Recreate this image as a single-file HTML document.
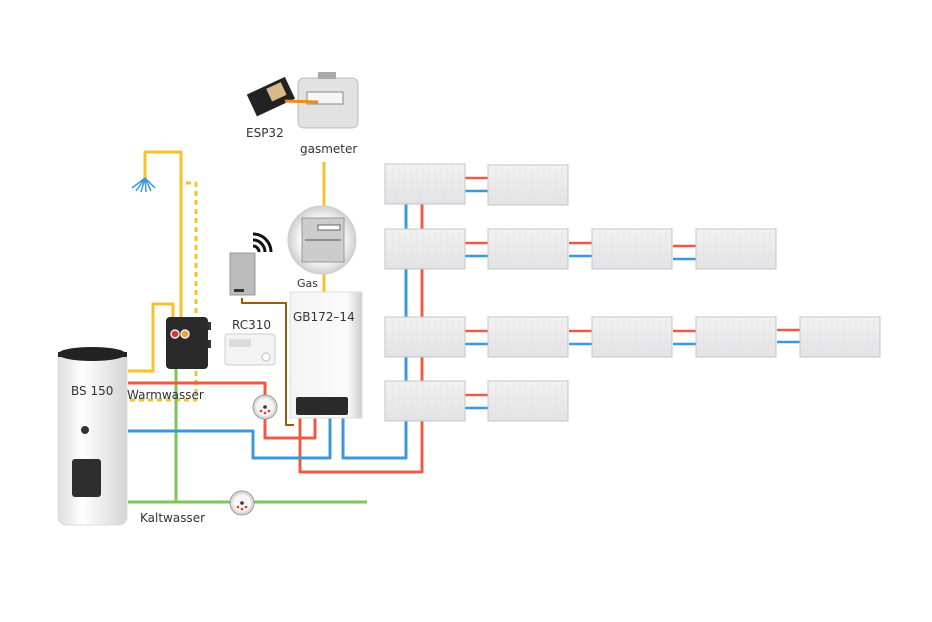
<!DOCTYPE html>
<html><head><meta charset="utf-8"><style>
html,body{margin:0;padding:0;background:#fff;width:932px;height:622px;overflow:hidden}
svg{display:block}
text{font-family:"DejaVu Sans","Liberation Sans",sans-serif;fill:#333}
</style></head><body>
<svg width="932" height="622" viewBox="0 0 932 622" xmlns="http://www.w3.org/2000/svg">
<defs>
<linearGradient id="tank" x1="0" x2="1"><stop offset="0" stop-color="#ddd"/><stop offset=".35" stop-color="#fff"/><stop offset="1" stop-color="#d4d4d4"/></linearGradient>
<linearGradient id="rad" x1="0" y1="0" x2="0" y2="1"><stop offset="0" stop-color="#f2f2f2"/><stop offset="1" stop-color="#e2e2e4"/></linearGradient>
<linearGradient id="boil" x1="0" x2="1"><stop offset="0" stop-color="#f4f4f4"/><stop offset=".8" stop-color="#fafafa"/><stop offset="1" stop-color="#ccc"/></linearGradient>
<radialGradient id="gm"><stop offset=".6" stop-color="#fff"/><stop offset="1" stop-color="#cfcfcf"/></radialGradient>
<g id="r"><rect x="0" y="0" width="80" height="40" fill="url(#rad)" stroke="#c4c4c6"/>
<path d="M8 2v36M14 2v36M20 2v36M26 2v36M32 2v36M38 2v36M44 2v36M50 2v36M56 2v36M62 2v36M68 2v36M74 2v36" stroke="#e6e6e8" stroke-width="1"/></g>
<g id="wm"><circle r="12" fill="#ddd" stroke="#999"/><circle r="9" fill="#f5f5f5"/><circle r="1.8" fill="#333"/><circle cx="-4" cy="4" r="1.3" fill="#e33"/><circle cx="0" cy="6" r="1.3" fill="#e33"/><circle cx="4" cy="4" r="1.3" fill="#e33"/></g>
</defs>
<g fill="none" stroke-width="3" stroke-linejoin="round">
<path d="M145 183V152H181V318" stroke="#f6c22b"/>
<path d="M128 371H153V304H173V318" stroke="#f6c22b"/>
<path d="M186 183H196V400H128" stroke="#f6c22b" stroke-dasharray="5 4"/>
<path d="M324 162V295" stroke="#f6c22b"/>
<path d="M176 368V502M128 502H367" stroke="#7cc55a"/>
<path d="M128 383H265V438H315V418" stroke="#ee5b45"/>
<path d="M300 418V472H422V200" stroke="#ee5b45"/>
<path d="M128 431H253V458H330V418" stroke="#3c98d8"/>
<path d="M343 418V458H406V200" stroke="#3c98d8"/>
<path d="M242 298V303H286V425H294" stroke="#9a5a10" stroke-width="2"/>
</g>
<g stroke-width="2.5" fill="none">
<path d="M465 178H488M465 243H488M569 243H592M673 246H696M465 331H488M569 331H592M673 331H696M777 330H800M465 395H488" stroke="#ee5b45"/>
<path d="M465 191H488M465 256H488M569 256H592M673 259H696M465 344H488M569 344H592M673 344H696M777 342H800M465 408H488" stroke="#3c98d8"/>
</g>
<use href="#r" x="385" y="164"/><use href="#r" x="488" y="165"/>
<use href="#r" x="385" y="229"/><use href="#r" x="488" y="229"/><use href="#r" x="592" y="229"/><use href="#r" x="696" y="229"/>
<use href="#r" x="385" y="317"/><use href="#r" x="488" y="317"/><use href="#r" x="592" y="317"/><use href="#r" x="696" y="317"/><use href="#r" x="800" y="317"/>
<use href="#r" x="385" y="381"/><use href="#r" x="488" y="381"/>
<rect x="58" y="352" width="69" height="173" rx="8" fill="url(#tank)" stroke="#ddd"/>
<ellipse cx="92" cy="354" rx="34" ry="7" fill="#222"/>
<rect x="58" y="352" width="69" height="5" fill="#222"/>
<text x="71" y="395" font-size="12">BS 150</text>
<circle cx="85" cy="430" r="4" fill="#333"/>
<rect x="72" y="459" width="29" height="38" rx="3" fill="#2e2e2e"/>
<g stroke="#3c98d8" stroke-width="1.5"><path d="M145 178L132 188M145 178L136 191M145 178L141 192M145 178L146 192M145 178L151 191M145 178L155 188"/></g>
<rect x="166" y="317" width="42" height="52" rx="4" fill="#2a2a2a"/>
<rect x="207" y="322" width="4" height="8" fill="#333"/><rect x="207" y="340" width="4" height="8" fill="#333"/>
<circle cx="175" cy="334" r="4" fill="#d33" stroke="#eee" stroke-width="1.5"/>
<circle cx="185" cy="334" r="4" fill="#e9a33a" stroke="#eee" stroke-width="1.5"/>
<use href="#wm" x="265" y="407"/>
<use href="#wm" x="242" y="503"/>
<rect x="230" y="253" width="25" height="42" fill="#bbb" stroke="#999"/>
<rect x="234" y="289" width="10" height="3" fill="#333"/>
<g fill="none" stroke="#111" stroke-width="3"><path d="M253 246a6 6 0 0 1 6 6M253 240a12 12 0 0 1 12 12M253 234a18 18 0 0 1 18 18"/></g>
<rect x="225" y="334" width="50" height="31" rx="3" fill="#f3f3f3" stroke="#ccc"/>
<rect x="229" y="339" width="22" height="8" fill="#ddd"/>
<circle cx="266" cy="357" r="4" fill="#fff" stroke="#bbb"/>
<text x="232" y="329" font-size="12">RC310</text>
<rect x="290" y="292" width="72" height="126" fill="url(#boil)" stroke="#ddd"/>
<rect x="296" y="397" width="52" height="18" rx="2" fill="#2a2a2a"/>
<text x="293" y="321" font-size="12">GB172–14</text>
<text x="297" y="287" font-size="11">Gas</text>
<circle cx="322" cy="240" r="34" fill="url(#gm)" stroke="#ccc"/>
<rect x="302" y="218" width="42" height="44" fill="#ccc" stroke="#999"/>
<rect x="318" y="225" width="22" height="5" fill="#fff" stroke="#666"/>
<line x1="305" y1="240" x2="341" y2="240" stroke="#555"/>
<rect x="298" y="78" width="60" height="50" rx="6" fill="#e2e2e2" stroke="#bbb"/>
<rect x="318" y="72" width="18" height="7" fill="#aaa"/>
<rect x="307" y="92" width="36" height="12" fill="#f6f6f6" stroke="#888"/>
<g transform="rotate(-25 270 97)"><rect x="250" y="85" width="42" height="24" fill="#222"/><rect x="270" y="88" width="16" height="14" fill="#d9b98a"/></g>
<line x1="285" y1="101" x2="318" y2="102" stroke="#f08a1c" stroke-width="3"/>
<text x="246" y="137" font-size="12">ESP32</text>
<text x="300" y="153" font-size="12">gasmeter</text>
<text x="127" y="399" font-size="12">Warmwasser</text>
<text x="140" y="522" font-size="12">Kaltwasser</text>
</svg>
</body></html>
